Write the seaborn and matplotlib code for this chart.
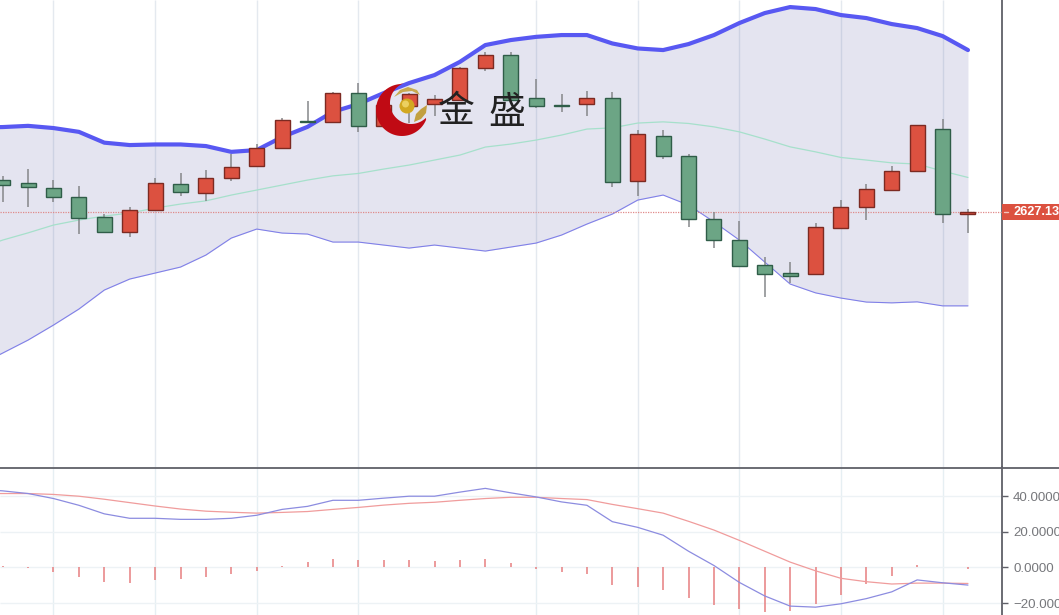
import numpy as np
import matplotlib
matplotlib.use("Agg")
import matplotlib.pyplot as plt
from matplotlib.patches import Circle, Polygon, Rectangle
import seaborn as sns

# candles, one entry per session
opens = [2643.1, 2641.4, 2638.9, 2634.4, 2624.4, 2617.2, 2628.1, 2640.9, 2636.7, 2644.1,
         2650.1, 2658.9, 2672.6, 2672.1, 2686.4, 2670.1, 2680.2, 2681.0, 2683.1, 2698.9,
         2705.6, 2683.9, 2680.4, 2680.9, 2683.9, 2642.7, 2665.2, 2655.1, 2623.4, 2612.9,
         2600.7, 2596.7, 2596.2, 2619.2, 2629.6, 2637.9, 2647.6, 2668.7, 2626.1]
closes = [2640.8, 2639.7, 2634.4, 2624.2, 2617.2, 2628.1, 2641.7, 2637.2, 2644.2, 2649.7,
          2658.9, 2673.1, 2672.2, 2686.4, 2670.1, 2680.6, 2685.9, 2683.6, 2699.2, 2705.6,
          2683.1, 2680.2, 2680.2, 2683.9, 2642.2, 2665.9, 2654.9, 2623.4, 2612.9, 2600.2,
          2596.2, 2595.2, 2619.4, 2629.6, 2638.4, 2647.7, 2670.7, 2626.1, 2627.13]
highs = [2645.1, 2648.6, 2643.1, 2640.1, 2625.9, 2629.4, 2643.9, 2646.4, 2648.1, 2656.1,
         2661.1, 2673.9, 2682.6, 2687.1, 2691.4, 2683.1, 2686.6, 2685.6, 2699.6, 2707.0,
         2707.0, 2693.4, 2686.1, 2687.6, 2687.1, 2668.1, 2668.1, 2656.1, 2627.2, 2622.7,
         2604.7, 2602.2, 2621.4, 2633.1, 2641.1, 2650.1, 2670.7, 2673.4, 2628.4]
lows = [2632.3, 2629.7, 2632.2, 2616.1, 2616.6, 2614.7, 2628.1, 2635.1, 2632.7, 2642.6,
        2650.1, 2658.9, 2671.7, 2672.1, 2667.2, 2670.1, 2671.6, 2675.1, 2683.1, 2697.7,
        2683.1, 2679.2, 2677.2, 2675.1, 2639.7, 2635.2, 2653.7, 2619.4, 2608.9, 2600.2,
        2584.4, 2591.4, 2596.2, 2619.2, 2623.1, 2637.9, 2647.6, 2621.4, 2616.7]

# bollinger bands and macd lines start one session before the first visible candle
boll_upper = [2669.4, 2669.6, 2670.2, 2669.1, 2667.2, 2661.8, 2660.6, 2660.9, 2660.9, 2660.1,
              2657.2, 2658.1, 2664.6, 2669.7, 2677.2, 2681.1, 2686.6, 2691.6, 2695.6, 2702.2,
              2710.6, 2713.1, 2714.7, 2715.6, 2715.6, 2711.4, 2708.9, 2708.1, 2711.1, 2715.6,
              2721.6, 2726.6, 2729.6, 2728.6, 2725.6, 2724.1, 2721.1, 2719.1, 2715.1, 2708.1]
boll_mid = [2608.6, 2613.1, 2616.7, 2620.6, 2623.1, 2625.1, 2626.6, 2629.1, 2631.1, 2632.7,
            2635.6, 2638.1, 2640.6, 2643.1, 2645.2, 2646.4, 2648.6, 2650.6, 2653.1, 2655.6,
            2659.6, 2661.1, 2663.1, 2665.6, 2668.6, 2669.2, 2671.6, 2672.2, 2671.4, 2669.7,
            2667.2, 2663.6, 2659.7, 2657.2, 2654.4, 2653.1, 2651.7, 2651.1, 2647.6, 2644.4]
boll_lower = [2550.1, 2556.6, 2563.1, 2570.6, 2578.6, 2588.1, 2593.6, 2596.6, 2599.6, 2605.6,
              2614.1, 2618.6, 2616.6, 2616.1, 2612.1, 2612.1, 2610.6, 2609.1, 2610.6, 2609.1,
              2607.6, 2609.6, 2611.6, 2615.6, 2621.1, 2626.1, 2633.1, 2635.6, 2630.6, 2622.2,
              2613.1, 2602.1, 2591.1, 2586.7, 2584.1, 2582.1, 2581.7, 2582.2, 2580.2, 2580.2]

dif = [44.0, 43.0, 41.5, 38.7, 34.9, 30.1, 27.6, 27.6, 27.0, 27.0, 27.6,
       29.3, 32.6, 34.3, 37.7, 37.7, 38.9, 40.0, 40.0, 42.3, 44.4,
       41.9, 39.6, 36.8, 34.9, 25.7, 22.5, 18.1, 9.1, 1.1, -8.4,
       -16.0, -21.7, -22.3, -20.4, -17.5, -13.7, -7.0, -8.6, -9.9]
dea = [41.5, 41.5, 41.5, 41.0, 40.0, 38.3, 36.4, 34.5, 32.8, 31.6, 31.0,
       30.5, 30.9, 31.4, 32.6, 33.7, 35.0, 36.0, 36.6, 37.7, 38.7,
       39.4, 39.4, 38.7, 38.1, 35.4, 33.0, 30.5, 25.9, 21.0, 15.2,
       9.1, 3.0, -1.9, -6.1, -8.0, -9.3, -8.8, -8.8, -9.0]
macd_hist = [1.0, -0.5, -2.3, -5.1, -8.0, -8.6, -6.9, -6.5, -5.3, -3.4,
             -1.9, 1.0, 2.9, 5.0, 4.0, 4.0, 4.0, 3.4, 4.0, 5.0,
             2.3, -0.6, -2.5, -3.4, -9.7, -10.9, -12.4, -17.0, -21.0, -23.4,
             -24.8, -24.6, -20.4, -15.2, -9.5, -4.6, 1.5, 0.0, -0.8]

grid_sessions = [2, 6, 10, 14, 21, 25, 29, 33, 37]
macd_ticks = [40, 20, 0, -20]
macd_labels = ["40.0000", "20.0000", "0.0000", "\u221220.0000"]
last_price = 2627.13

RED = "#dc5140"
RED_EDGE = "#7c2a22"
GREEN = "#6ca585"
GREEN_EDGE = "#2f5d48"
AXIS = "#5f6068"

sns.set_theme(style="white")
plt.rcParams['font.family'] = ['Liberation Sans', 'Noto Sans CJK SC', 'DejaVu Sans']

fig = plt.figure(figsize=(10.59, 6.15), dpi=100)
W, H = 1059, 615
ax = fig.add_axes([0, (H - 467) / H, 1002 / W, 467 / H])
ax_macd = fig.add_axes([0, 0, 1002 / W, (H - 467) / H], sharex=ax)

x = np.arange(len(closes))
x_band = np.arange(-1, len(closes))
opens_arr, closes_arr = np.array(opens), np.array(closes)
is_up = closes_arr >= opens_arr
body_low = np.minimum(opens_arr, closes_arr)
body_size = np.abs(closes_arr - opens_arr)

# price panel
ax.vlines(grid_sessions, 0, 1, transform=ax.get_xaxis_transform(), color="#e4e9ef", lw=1, zorder=0)
ax.fill_between(x_band, boll_lower, boll_upper, color="#5050a0", alpha=0.15, lw=0, zorder=1)
sns.lineplot(x=x_band, y=boll_mid, ax=ax, color="#a6e0cb", lw=0.9, zorder=2)
sns.lineplot(x=x_band, y=boll_lower, ax=ax, color="#8080e8", lw=0.8, zorder=2)
sns.lineplot(x=x_band, y=boll_upper, ax=ax, color="#5858f2", lw=3.0, zorder=2)
ax.axhline(last_price, color="#e08a8a", lw=0.9, ls=(0, (1, 1)), zorder=3)
ax.vlines(x, lows, highs, color="#85878a", lw=1.1, zorder=4)
ax.bar(x[is_up], body_size[is_up], bottom=body_low[is_up], width=0.59,
       color=RED, edgecolor=RED_EDGE, lw=1, zorder=5)
ax.bar(x[~is_up], body_size[~is_up], bottom=body_low[~is_up], width=0.59,
       color=GREEN, edgecolor=GREEN_EDGE, lw=1, zorder=5)
ax.set_xlim(-0.106, 39.34)
ax.set_ylim(2499.63, 2733.13)
ax.set_yticks([])
ax.tick_params(bottom=False, labelbottom=False)

# last price tag
ax.add_patch(Rectangle((1.0, last_price - 4), 57 / 1002, 8, transform=ax.get_yaxis_transform(),
                       color=RED, clip_on=False, lw=0, zorder=6))
ax.text(1 + 11 / 1002, last_price - 0.2, f"{last_price:.2f}", transform=ax.get_yaxis_transform(),
        color="white", fontsize=9.2, fontweight="bold", va="center", ha="left", clip_on=False, zorder=7)
ax.plot([1 + 2 / 1002, 1 + 6 / 1002], [last_price, last_price], transform=ax.get_yaxis_transform(),
        color="#f3c4bd", lw=1, clip_on=False, zorder=7)

# macd panel
ax_macd.vlines(grid_sessions, 0, 1, transform=ax_macd.get_xaxis_transform(), color="#e6eff3", lw=1, zorder=0)
ax_macd.hlines(macd_ticks, 0, 1, transform=ax_macd.get_yaxis_transform(), color="#edf2f5", lw=1, zorder=0)
ax_macd.vlines(x, 0, macd_hist, color="#e77f80", lw=1.1, zorder=2)
sns.lineplot(x=x_band, y=dea, ax=ax_macd, color="#f09c9c", lw=0.9, zorder=3)
sns.lineplot(x=x_band, y=dif, ax=ax_macd, color="#8c8ce0", lw=0.9, zorder=3)
ax_macd.set_ylim(-26.7, 56.4)
ax_macd.yaxis.tick_right()
ax_macd.set_yticks(macd_ticks)
ax_macd.set_yticklabels(macd_labels)
ax_macd.tick_params(axis="y", right=True, length=4, width=1, color=AXIS, labelcolor="#77787c",
                    labelsize=9.6, pad=4)
ax_macd.tick_params(axis="x", bottom=False, labelbottom=False)

for a in (ax, ax_macd):
    for side in ("left", "top", "bottom"):
        a.spines[side].set_visible(False)
    a.spines["right"].set_color(AXIS)
    a.spines["right"].set_linewidth(1.3)

# overlay in pixel coordinates for the separator and the logo watermark
overlay = fig.add_axes([0, 0, 1, 1], facecolor="none")
overlay.set_xlim(0, W)
overlay.set_ylim(H, 0)
overlay.axis("off")
overlay.plot([0, W], [467.5, 467.5], color=AXIS, lw=1.3)

outer = np.radians(np.linspace(265, 22, 60))
inner = np.radians(np.linspace(45, 250, 60))
crescent = np.vstack([
    np.column_stack([402 + 26 * np.cos(outer), 110 + 26 * np.sin(outer)]),
    np.column_stack([411 + 21 * np.cos(inner), 103 + 21 * np.sin(inner)]),
])
overlay.add_patch(Polygon(crescent, closed=True, color="#c00a14", lw=0))
overlay.add_patch(Circle((407, 106), 7.5, color="#d2a820", lw=0))
overlay.add_patch(Circle((405.5, 104), 3.5, color="#ecd060", lw=0))
overlay.add_patch(Polygon([(394, 97), (400, 90), (408, 87), (417, 90), (420, 95), (412, 91), (403, 92)],
                          closed=True, color="#c9a94f", lw=0))
overlay.add_patch(Polygon([(414, 122), (416, 114), (421, 109), (427, 105), (426, 113), (421, 119)],
                          closed=True, color="#c2a040", lw=0))
overlay.text(438, 112, "\u91d1", fontsize=26.5, color="#222222", va="center", ha="left",
             family=['Noto Sans CJK SC', 'DejaVu Sans'])
overlay.text(488, 112, "\u76db", fontsize=26.5, color="#222222", va="center", ha="left",
             family=['Noto Sans CJK SC', 'DejaVu Sans'])

fig.savefig("out.png", dpi=100)
